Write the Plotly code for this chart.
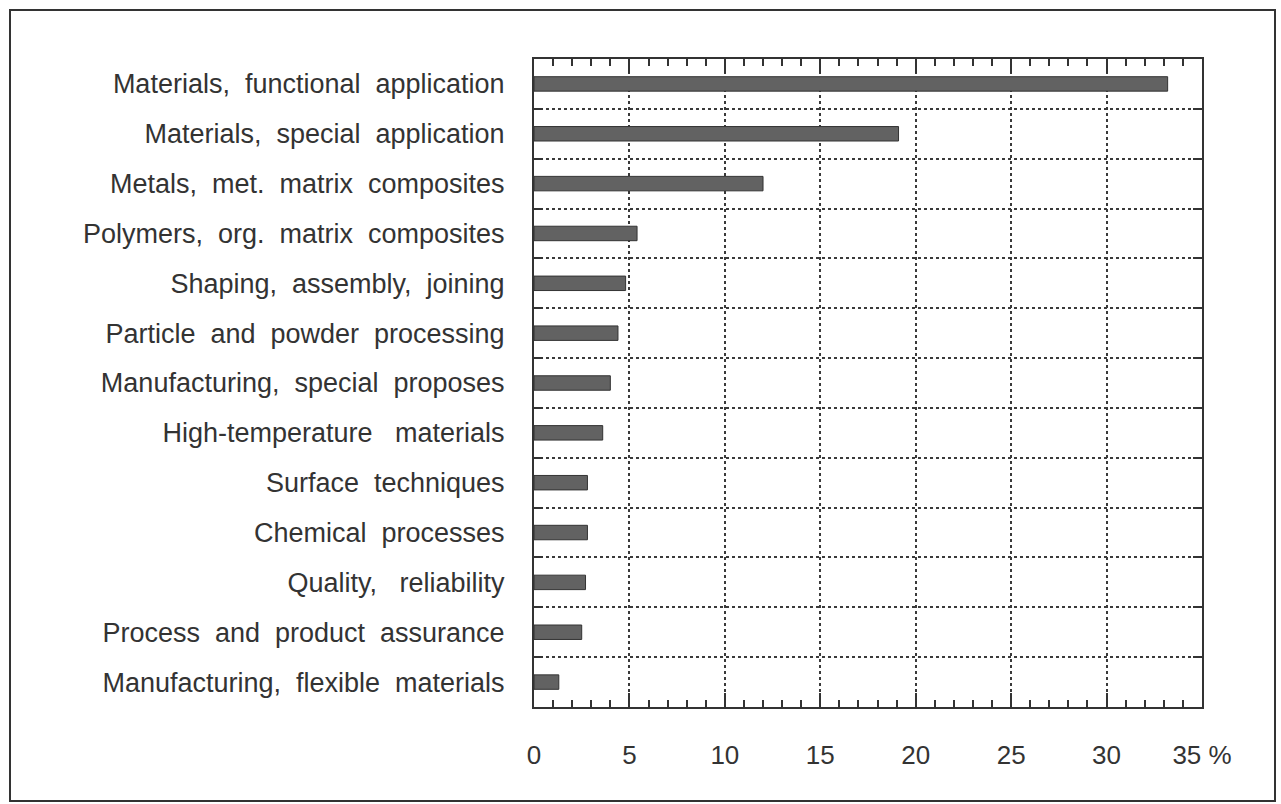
import plotly.graph_objects as go

# categories (top to bottom) and shares in %
categories = [
    "Materials,  functional  application",
    "Materials,  special  application",
    "Metals,  met.  matrix  composites",
    "Polymers,  org.  matrix  composites",
    "Shaping,  assembly,  joining",
    "Particle  and  powder  processing",
    "Manufacturing,  special  proposes",
    "High-temperature   materials",
    "Surface  techniques",
    "Chemical  processes",
    "Quality,   reliability",
    "Process  and  product  assurance",
    "Manufacturing,  flexible  materials",
]
shares = [33.2, 19.1, 12.0, 5.4, 4.8, 4.4, 4.0, 3.6, 2.8, 2.8, 2.7, 2.5, 1.3]

tick_vals = [0, 5, 10, 15, 20, 25, 30, 35]
tick_text = ["0", "5", "10", "15", "20", "25", "30", "35 %"]

ink = "#333333"

fig = go.Figure()
fig.add_trace(go.Bar(
    y=categories, x=shares, orientation="h",
    width=0.29,
    marker=dict(color="#626262", line=dict(color="#333333", width=1)),
    showlegend=False,
))

# plot area: x 534..1202, y 59..707
fig.update_layout(
    width=1281, height=804,
    margin=dict(l=534, r=79, t=59, b=97),
    paper_bgcolor="white", plot_bgcolor="white",
    font=dict(family="Liberation Sans, Arial, sans-serif", color=ink, size=26),
)

fig.update_xaxes(
    range=[0, 35], tickvals=tick_vals, ticktext=tick_text,
    ticks="inside", ticklen=14, tickwidth=1.5, tickcolor=ink,
    showline=True, linecolor=ink, linewidth=2, mirror="ticks",
    showgrid=True, gridcolor="#3a3a3a", gridwidth=1.5, griddash="dot",
    minor=dict(dtick=1, ticks="inside", ticklen=7, tickwidth=1.5, tickcolor=ink, showgrid=False),
    tickfont=dict(size=26), ticklabelstandoff=24,
    zeroline=False,
)

fig.update_yaxes(
    autorange="reversed", tickson="boundaries",
    ticks="inside", ticklen=9, tickwidth=1.5, tickcolor=ink,
    showline=True, linecolor=ink, linewidth=2, mirror="ticks",
    showgrid=True, gridcolor="#3a3a3a", gridwidth=1.5, griddash="dot",
    tickfont=dict(size=27), ticklabelstandoff=22,
)

# outer frame around the whole figure
fig.add_shape(type="rect", xref="paper", yref="paper",
              x0=(10 - 534) / 668, x1=(1275 - 534) / 668,
              y0=(707 - 801) / 648, y1=(707 - 10) / 648,
              line=dict(color="#333333", width=2))

fig.write_html("out.html", config={"displayModeBar": False},
               post_script="document.body.style.margin='0';")
